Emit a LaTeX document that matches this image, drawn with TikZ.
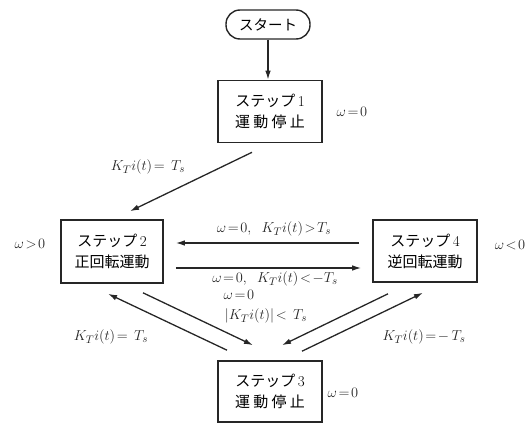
\documentclass[tikz,border=0pt]{standalone}
\usepackage{fontspec}
\newfontfamily\jp{Noto Sans CJK JP}
\usetikzlibrary{arrows.meta,calc}
\definecolor{ink}{HTML}{262626}
\tikzset{
  stepbox/.style={draw=ink, line width=1.6pt, minimum width=104pt, minimum height=62pt,
    inner sep=0pt, align=center, font=\fontsize{15}{21}\selectfont},
  startbox/.style={draw=ink, line width=1.4pt, rounded corners=14pt, minimum width=84pt,
    minimum height=29pt, inner sep=0pt, font=\jp\fontsize{14.5}{16}\selectfont},
  arr/.style={draw=ink, line width=1.3pt, -{Latex[length=9pt,width=5.5pt]}},
  lbl/.style={inner sep=0pt, text=ink, font=\fontsize{15.5}{18}\selectfont}
}
\newcommand{\spreadfour}[4]{\makebox[70pt][s]{#1\hfil#2\hfil#3\hfil#4}}
\begin{document}
\begin{tikzpicture}[x=1pt,y=-1pt]
\useasboundingbox (0,0) rectangle (530,423);

% start and the four steps
\node[startbox] (st) at (268,24.5) {スタート};
\node[stepbox] (s1) at (270,111.5) {{\jp ステップ}\,1\\{\jp\spreadfour{運}{動}{停}{止}}};
\node[stepbox, minimum width=102pt, minimum height=63pt] (s2) at (112,251.5) {{\jp ステップ}\,2\\{\jp 正回転運動}};
\node[stepbox] (s4) at (425,251) {{\jp ステップ}\,4\\{\jp 逆回転運動}};
\node[stepbox, minimum height=61pt] (s3) at (270,391.5) {{\jp ステップ}\,3\\{\jp\spreadfour{運}{動}{停}{止}}};

% speed annotations beside the steps
\node[lbl] (w1) at (352,112) {$\omega\!=\!0$};
\node[lbl] (w2) at (30,244) {$\omega\!>\!0$};
\node[lbl] (w4) at (510,245) {$\omega\!<\!0$};
\node[lbl] (w3) at (343,393) {$\omega\!=\!0$};

% transitions
\draw[arr] (st.south) -- (st.south |- s1.north);
\draw[arr] ($(s1.south)+(-18,9)$) -- ($(s2.north)+(18,-8)$);
\draw[arr] ($(s4.west)+(-13,-8)$) -- ($(s2.east)+(12,-8.5)$);
\draw[arr] ($(s2.east)+(12,16.5)$) -- ($(s4.west)+(-11,17)$);
\draw[arr] ($(s2.south)+(31,9)$) -- ($(s3.north)+(-17,-15)$);
\draw[arr] ($(s3.north)+(-43,-10)$) -- ($(s2.south)+(-4,10)$);
\draw[arr] ($(s4.south)+(-37,11)$) -- ($(s3.north)+(12,-15)$);
\draw[arr] ($(s3.north)+(32,-9)$) -- ($(s4.south)+(-2,10)$);

% transition conditions
\node[lbl] (c12) at (148,167) {$K_{T}i(t)\!=\,T_s$};
\node[lbl] (c42) at (274,229) {$\omega\!=\!0,\;\; K_{T}i(t)\!>\!T_s$};
\node[lbl] (c24) at (275,279) {$\omega\!=\!0,\;\; K_{T}i(t)\!<\!-T_s$};
\node[lbl] (c3a) at (239,295) {$\omega\!=\!0$};
\node[lbl] (c3b) at (266,316) {$|K_{T}i(t)|\!<\,T_s$};
\node[lbl] (c32) at (111,337) {$K_{T}i(t)\!=\,T_s$};
\node[lbl] (c34) at (424,337) {$K_{T}i(t)\!=\!-\,T_s$};
\end{tikzpicture}
\end{document}
